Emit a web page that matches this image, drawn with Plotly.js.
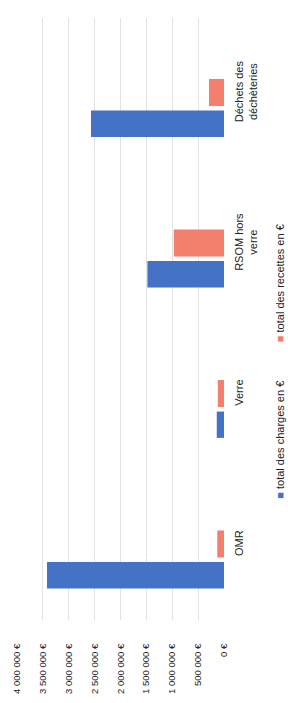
<!DOCTYPE html>
<html>
<head>
<meta charset="utf-8">
<script src="https://cdn.plot.ly/plotly-3.0.1.min.js"></script>
<style>html,body{margin:0;padding:0;background:#fff;}#chart{width:288px;height:703px;}</style>
</head>
<body>
<div id="chart"></div>
<script>
const categories = ["OMR", "Verre", "RSOM hors<br>verre", "Déchets des<br>déchèteries"];
const charges = [3420000, 140000, 1480000, 2570000];
const recettes = [130000, 120000, 970000, 290000];
const tickValues = [0, 500000, 1000000, 1500000, 2000000, 2500000, 3000000, 3500000, 4000000];
const tickLabels = ["0 €", "500 000 €", "1 000 000 €", "1 500 000 €", "2 000 000 €", "2 500 000 €", "3 000 000 €", "3 500 000 €", "4 000 000 €"];
const seriesNames = ["total des charges en €", "total des recettes en €"];
const colors = ["#4472C4", "#F3806C"];

const font = {family: "'Liberation Sans', Arial, sans-serif", color: "#222222"};

const traces = [
  {type: "bar", orientation: "h", y: categories, x: charges, name: seriesNames[0],
   marker: {color: colors[0]}, width: 0.175, offset: -0.29, showlegend: false, hoverinfo: "skip"},
  {type: "bar", orientation: "h", y: categories, x: recettes, name: seriesNames[1],
   marker: {color: colors[1]}, width: 0.18, offset: -0.085, showlegend: false, hoverinfo: "skip"}
];

const layout = {
  width: 288, height: 703,
  margin: {l: 17, r: 64, t: 18, b: 83},
  paper_bgcolor: "#fff", plot_bgcolor: "#fff",
  barmode: "overlay",
  showlegend: false,
  font: Object.assign({size: 10}, font),
  xaxis: {
    range: [4000000, 0], autorange: false,
    tickvals: tickValues, ticktext: tickLabels,
    tickangle: -90, tickfont: Object.assign({size: 9.5}, font),
    showgrid: true, gridcolor: "#E3E3E3", gridwidth: 1,
    zeroline: false, showline: false,
    ticks: "outside", ticklen: 19, tickcolor: "rgba(0,0,0,0)"
  },
  yaxis: {
    type: "category", range: [-0.5, 3.5], autorange: false,
    side: "right", tickangle: -90,
    tickfont: Object.assign({size: 11}, font),
    showgrid: false, zeroline: false, showline: false,
    ticks: "outside", ticklen: 5, tickcolor: "rgba(0,0,0,0)"
  },
  annotations: [
    {xref: "paper", yref: "paper", x: 1.272, y: 0.30, xanchor: "center", yanchor: "middle",
     textangle: -90, showarrow: false, font: Object.assign({size: 11}, font),
     text: '<span style="color:' + colors[0] + '">■</span> ' + seriesNames[0]},
    {xref: "paper", yref: "paper", x: 1.272, y: 0.56, xanchor: "center", yanchor: "middle",
     textangle: -90, showarrow: false, font: Object.assign({size: 11}, font),
     text: '<span style="color:' + colors[1] + '">■</span> ' + seriesNames[1]}
  ]
};

Plotly.newPlot("chart", traces, layout, {staticPlot: true, displayModeBar: false});
</script>
</body>
</html>
